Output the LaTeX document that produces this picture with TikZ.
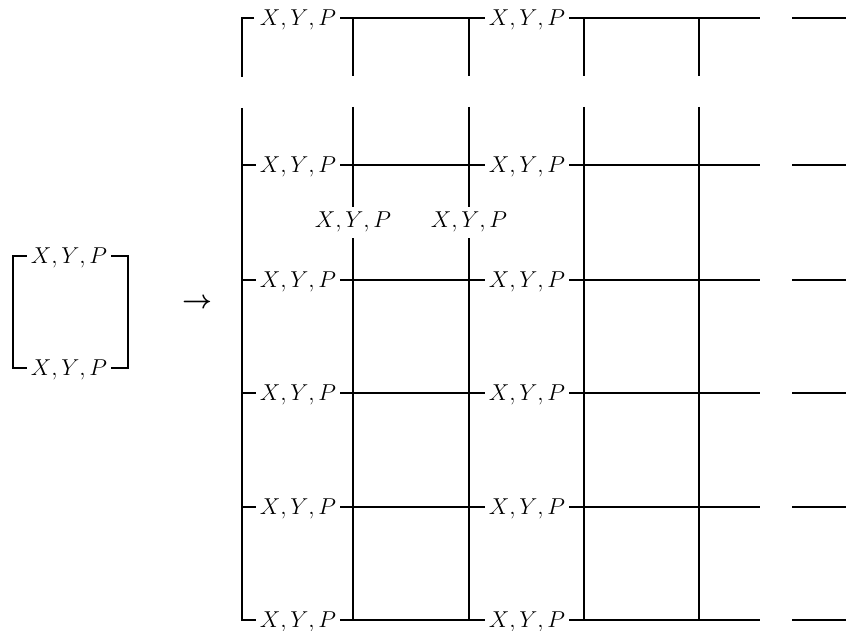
\documentclass[tikz,border=0pt]{standalone}
\usepackage{fix-cm}
\newcommand{\xyp}{$X{,}\mkern3mu Y{,}\mkern3mu P$}
\tikzset{
  lab/.style={inner sep=4pt, text height=15.7pt, text depth=0pt, font=\fontsize{23}{28}\selectfont},
  midlab/.style={lab, text depth=6.9pt},
  arrlab/.style={inner sep=0pt, font=\fontsize{26}{30}\selectfont\boldmath},
  ln/.style={line width=2.9pt, line join=miter}
}
\begin{document}
\begin{tikzpicture}[x=1pt,y=-1pt]
\useasboundingbox (0,0) rectangle (846,631);
% left bracket
\node[lab] (la) at (69,256) {\xyp};
\node[lab] (lb) at (69,368) {\xyp};
\coordinate (bl1) at (13,256);
\coordinate (bl2) at (13,368);
\coordinate (br1) at (128,256);
\coordinate (br2) at (128,368);
\draw[ln] (la.west) -- (bl1) -- (bl2) -- (lb.west);
\draw[ln] (la.east) -- (br1) -- (br2) -- (lb.east);
% arrow
\node[arrlab] (arr) at (197,303) {$\rightarrow$};
% rows
\foreach \i/\y in {0/18,1/165,2/280,3/393,4/507,5/620}{
  \node[lab] (A\i) at (298,\y) {\xyp};
  \node[lab] (B\i) at (527,\y) {\xyp};
  \coordinate (L\i) at (242,\y);
  \coordinate (E\i) at (760,\y);
  \coordinate (R\i) at (792,\y);
  \coordinate (S\i) at (846,\y);
  \draw[ln] (A\i.east) -- (B\i.west);
  \draw[ln] (B\i.east) -- (E\i);
  \draw[ln] (R\i) -- (S\i);
}
% main left vertical
\coordinate (Lt) at (242,77);
\coordinate (Lb) at (242,108);
\coordinate (Ltk) at (254,18);
\draw[ln] (Ltk) -- (L0) -- (Lt);
\draw[ln] (Lb) -- (L5) -- (A5.west);
\foreach \i in {1,...,4}{ \draw[ln] (L\i) -- (A\i.west); }
% middle labels
\node[midlab] (M1) at (353,223) {\xyp};
\node[midlab] (M2) at (469,223) {\xyp};
% verticals
\foreach \c/\x in {1/353,2/469,3/584,4/699}{
  \coordinate (T\c) at (\x,18);
  \coordinate (U\c) at (\x,76);
  \coordinate (D\c) at (\x,107);
  \coordinate (F\c) at (\x,620);
  \draw[ln] (T\c) -- (U\c);
}
\draw[ln] (D1) -- (M1.north);
\draw[ln] (M1.south) -- (F1);
\draw[ln] (D2) -- (M2.north);
\draw[ln] (M2.south) -- (F2);
\draw[ln] (D3) -- (F3);
\draw[ln] (D4) -- (F4);
\end{tikzpicture}
\end{document}
